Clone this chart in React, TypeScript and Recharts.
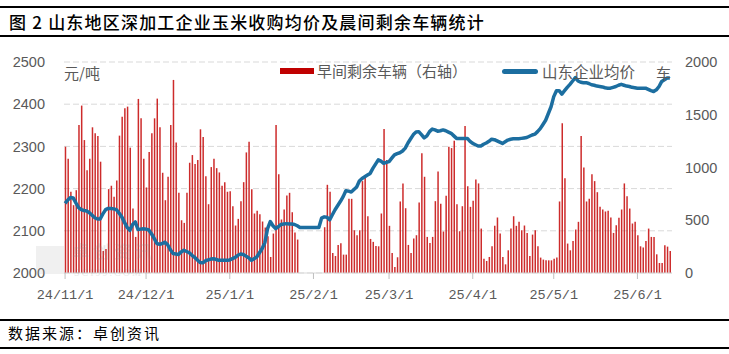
import React from 'react';
import { ComposedChart, Bar, Line, XAxis, YAxis, CartesianGrid } from 'recharts';

// day index 0 = 2024-11-01
const monthTicks = [0, 30, 61, 92, 120, 151, 181, 212];
const monthLabels = ['24/11/1', '24/12/1', '25/1/1', '25/2/1', '25/3/1', '25/4/1', '25/5/1', '25/6/1'];

const leftTicks = [2000, 2100, 2200, 2300, 2400, 2500];
const rightTicks = [0, 500, 1000, 1500, 2000];

// 早间剩余车辆（右轴）
const vehicles = [
  1197, 1083, 770, 643, 785, 1403, 1587, 1260, 975, 1083,
  1381, 1324, 1298, 1055, 209, 228, 795, 827, 722, 877,
  1302, 1482, 1561, 1577, 1188, 611, 342, 1650, 1466, 1083,
  811, 1146, 1324, 1466, 1653, 1381, 950, 690, 912, 1403,
  1830, 1238, 760, 500, 475, 760, 1045, 1118, 1032, 1070,
  1362, 1289, 918, 652, 1004, 1083, 994, 953, 827, 861,
  770, 776, 633, 450, 513, 681, 861, 1143, 1245, 795,
  564, 589, 557, 488, 431, 348, 152, 374, 1403, 937,
  507, 602, 735, 760, 576, 383, 317, null, null, null,
  null, null, null, null, null, null, 434, 836, 770, 190,
  161, 266, 282, 174, 174, 703, 703, 405, 358, 405,
  871, 906, 538, 323, 295, 257, 253, 564, 1365, 1070,
  447, 190, 57, 149, 678, 849, 614, 266, 190, 326,
  358, 668, 1134, 912, 342, 285, 342, 681, 963, 656,
  393, 732, 1197, 1184, 1254, 652, 396, 633, 1393, 823,
  627, 684, 887, 849, 421, 136, 114, 152, 253, 447,
  526, 374, 152, 82, 215, 421, 538, 447, 485, 405,
  450, 380, 161, 364, 405, 253, 146, 127, 120, 120,
  120, 136, 146, 678, 1419, 899, 279, 215, 304, 412,
  485, 1298, 1001, 678, 703, 937, 871, 766, 627, 602,
  583, 589, 526, 380, 453, 523, 602, 849, 728, 611,
  469, 485, 358, 253, 241, 304, 421, 342, 342, 177,
  95, 95, 263, 250, 209,
];

// 山东企业均价（元/吨）
const prices = [
  2165, 2173, 2179, 2178, 2166, 2155, 2150, 2148, 2147, 2143,
  2137, 2131, 2128, 2128, 2140, 2150, 2153, 2153, 2152, 2150,
  2142, 2133, 2120, 2108, 2101, 2115, 2121, 2103, 2104, 2105,
  2104, 2102, 2093, 2082, 2070, 2068, 2070, 2073, 2067, 2055,
  2046, 2045, 2044, 2050, 2054, 2051, 2048, 2042, 2037, 2031,
  2025, 2024, 2029, 2031, 2033, 2034, 2032, 2030, 2030, 2030,
  2030, 2031, 2034, 2037, 2042, 2045, 2044, 2040, 2036, 2030,
  2034, 2038, 2048, 2058, 2072, 2105, 2122, 2112, 2105, 2110,
  2115, 2116, 2117, 2116, 2116, 2115, 2112, 2108, 2108, 2108,
  2108, 2108, 2108, 2108, 2108, 2130, 2133, 2132, 2126, 2138,
  2150, 2160, 2170, 2181, 2195, 2194, 2192, 2198, 2204, 2218,
  2224, 2228, 2232, 2236, 2248, 2258, 2268, 2265, 2260, 2262,
  2264, 2272, 2280, 2283, 2285, 2289, 2296, 2308, 2318, 2328,
  2334, 2335, 2328, 2320, 2325, 2335, 2341, 2339, 2336, 2337,
  2339, 2337, 2334, 2331, 2325, 2319, 2319, 2319, 2319, 2319,
  2312, 2307, 2304, 2301, 2301, 2305, 2308, 2312, 2317, 2316,
  2313, 2310, 2307, 2311, 2315, 2317, 2318, 2318, 2318, 2319,
  2320, 2321, 2324, 2327, 2329, 2335, 2342, 2352, 2362, 2378,
  2394, 2418, 2432, 2432, 2424, 2432, 2440, 2447, 2455, 2463,
  2455, 2452, 2451, 2451, 2449, 2446, 2445, 2443, 2442, 2441,
  2439, 2438, 2438, 2440, 2442, 2445, 2447, 2445, 2443, 2442,
  2440, 2439, 2438, 2438, 2438, 2438, 2435, 2432, 2430, 2434,
  2442, 2454, 2458, 2462, 2462,
];

const data = prices.map((p, i) => ({ day: i, price: p, cars: vehicles[i] }));

const RED = '#C81414';
const BLUE = '#1C6EA0';
const GREY = '#595959';
const cjk = '"Noto Sans CJK SC", "Noto Sans", sans-serif';

const hr = (top: number) => (
  <div style={{ position: 'absolute', left: 0, top, width: 729, height: 2, background: '#000' }} />
);

export default function App() {
  return (
    <div
      style={{
        position: 'absolute',
        left: 0,
        top: 0,
        width: 729,
        height: 354,
        background: '#fff',
        overflow: 'hidden',
        fontFamily: cjk,
      }}
    >
      {hr(6)}
      <div
        style={{
          position: 'absolute',
          left: 9,
          top: 12,
          fontSize: 17,
          lineHeight: '20px',
          letterSpacing: 1.2,
          color: '#000',
          fontWeight: 500,
          whiteSpace: 'nowrap',
        }}
      >
        图 2 山东地区深加工企业玉米收购均价及晨间剩余车辆统计
      </div>
      {hr(35)}

      <div style={{ position: 'absolute', left: 0, top: 0 }}>
        <ComposedChart width={729} height={354} data={data} margin={{ top: 62, right: 0, bottom: 51, left: 0 }}>
          <CartesianGrid yAxisId="left" vertical={false} stroke="#d9d9d9" strokeDasharray="6 3" />
          <XAxis
            dataKey="day"
            type="number"
            domain={[-0.4, 224.8]}
            ticks={monthTicks}
            tickFormatter={(v: number) => monthLabels[monthTicks.indexOf(v)] ?? ''}
            height={30}
            interval={0}
            axisLine={{ stroke: '#d9d9d9' }}
            tickLine={{ stroke: '#bfbfbf' }}
            tickSize={6}
            tickMargin={10}
            tick={{ fill: GREY, fontSize: 13.5, fontFamily: '"Liberation Mono", "DejaVu Sans Mono", monospace' }}
          />
          <YAxis
            yAxisId="left"
            orientation="left"
            width={64}
            domain={[2000, 2500]}
            ticks={leftTicks}
            interval={0}
            axisLine={false}
            tickLine={false}
            tickMargin={13}
            tick={{ fill: GREY, fontSize: 14.5, fontFamily: '"Liberation Sans", Arial, sans-serif' }}
          />
          <YAxis
            yAxisId="right"
            orientation="right"
            width={57}
            domain={[0, 2000]}
            ticks={rightTicks}
            interval={0}
            axisLine={false}
            tickLine={false}
            tickMargin={7}
            tick={{ fill: GREY, fontSize: 14.5, fontFamily: '"Liberation Sans", Arial, sans-serif' }}
          />
          <Bar yAxisId="right" dataKey="cars" fill={RED} fillOpacity={0.9} barSize={1.5} isAnimationActive={false} />
          <Line
            yAxisId="left"
            dataKey="price"
            type="linear"
            stroke={BLUE}
            strokeWidth={3.5}
            strokeLinejoin="round"
            dot={false}
            activeDot={false}
            isAnimationActive={false}
          />
        </ComposedChart>
      </div>

      {/* watermark */}
      <div style={{ position: 'absolute', left: 36, top: 242, opacity: 0.18, pointerEvents: 'none' }}>
        <div style={{ position: 'absolute', left: 0, top: 4, width: 28, height: 28, background: '#b0b0b0' }} />
        <div style={{ position: 'absolute', left: 36, top: 0, fontSize: 17, lineHeight: '17px', fontWeight: 700, color: '#8a8a8a', whiteSpace: 'nowrap', letterSpacing: 4 }}>
          卓创资讯
        </div>
        <div style={{ position: 'absolute', left: 38, top: 26, fontSize: 10, lineHeight: '10px', fontFamily: '"Liberation Serif", serif', color: '#8a8a8a', whiteSpace: 'nowrap', letterSpacing: 2 }}>
          SCI99.COM
        </div>
      </div>

      {/* axis units */}
      <div style={{ position: 'absolute', left: 64, top: 64, fontSize: 15, lineHeight: '18px', color: GREY, whiteSpace: 'nowrap' }}>元/吨</div>
      <div style={{ position: 'absolute', left: 656, top: 64, fontSize: 15, lineHeight: '18px', color: GREY, whiteSpace: 'nowrap' }}>车</div>

      {/* legend */}
      <div style={{ position: 'absolute', left: 280, top: 68, width: 34, height: 6, background: '#C00000' }} />
      <div style={{ position: 'absolute', left: 317, top: 62, fontSize: 15, lineHeight: '18px', color: GREY, whiteSpace: 'nowrap' }}>
        早间剩余车辆（右轴）
      </div>
      <div style={{ position: 'absolute', left: 502, top: 69, width: 36, height: 5, borderRadius: 3, background: BLUE }} />
      <div style={{ position: 'absolute', left: 542, top: 62, fontSize: 15.5, lineHeight: '18px', color: GREY, whiteSpace: 'nowrap' }}>
        山东企业均价
      </div>

      {hr(319)}
      <div
        style={{
          position: 'absolute',
          left: 8,
          top: 324,
          fontSize: 15,
          lineHeight: '18px',
          letterSpacing: 2,
          color: '#000',
          whiteSpace: 'nowrap',
        }}
      >
        数据来源：卓创资讯
      </div>
      {hr(347)}
    </div>
  );
}
